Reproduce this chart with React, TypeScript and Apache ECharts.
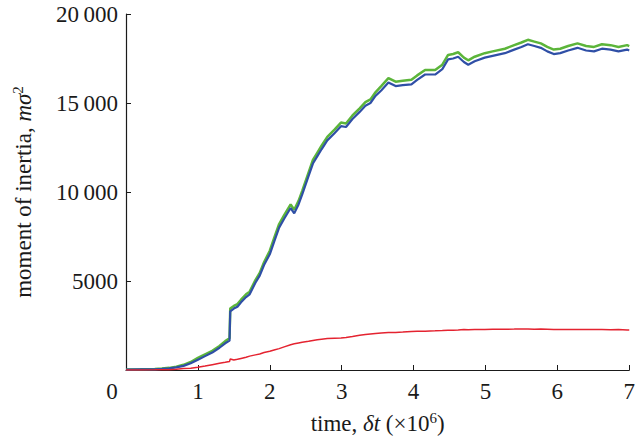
import React, { useEffect, useRef } from "react";
import * as echarts from "echarts";

const time = [0, 0.2, 0.4, 0.5, 0.6, 0.7, 0.8, 0.9, 1.0, 1.1, 1.2, 1.3, 1.38, 1.44, 1.45, 1.5, 1.55, 1.6, 1.67, 1.72, 1.8, 1.86, 1.92, 2.0, 2.06, 2.13, 2.2, 2.29, 2.34, 2.4, 2.45, 2.54, 2.6, 2.66, 2.72, 2.8, 2.9, 2.99, 3.06, 3.15, 3.25, 3.33, 3.4, 3.47, 3.55, 3.65, 3.75, 3.85, 3.97, 4.05, 4.16, 4.3, 4.4, 4.48, 4.55, 4.62, 4.7, 4.76, 4.85, 4.99, 5.1, 5.27, 5.4, 5.5, 5.59, 5.68, 5.77, 5.86, 5.95, 6.04, 6.15, 6.28, 6.4, 6.51, 6.62, 6.74, 6.85, 6.97, 7.0];

const blue = [20, 30, 40, 60, 90, 150, 230, 380, 580, 780, 980, 1250, 1500, 1650, 3300, 3450, 3550, 3800, 4100, 4250, 4900, 5300, 5900, 6500, 7200, 8000, 8500, 9100, 8800, 9300, 9850, 10900, 11600, 12000, 12400, 12900, 13300, 13700, 13650, 14100, 14500, 14850, 15000, 15400, 15700, 16150, 15950, 16000, 16050, 16300, 16600, 16600, 16900, 17450, 17500, 17600, 17300, 17150, 17350, 17550, 17650, 17800, 18000, 18150, 18300, 18200, 18100, 17900, 17750, 17800, 17950, 18100, 17950, 17900, 18050, 18000, 17900, 18000, 17950];

const green = [30, 40, 60, 80, 120, 190, 290, 450, 680, 880, 1080, 1350, 1620, 1780, 3450, 3600, 3700, 3950, 4250, 4400, 5050, 5450, 6050, 6700, 7400, 8200, 8700, 9300, 9000, 9500, 10050, 11100, 11800, 12200, 12600, 13100, 13500, 13900, 13850, 14300, 14700, 15050, 15200, 15600, 15950, 16400, 16200, 16250, 16300, 16550, 16850, 16850, 17150, 17700, 17750, 17850, 17550, 17400, 17600, 17800, 17900, 18050, 18250, 18400, 18550, 18450, 18350, 18150, 18000, 18050, 18200, 18350, 18200, 18150, 18300, 18250, 18150, 18250, 18200];

const red = [0, 5, 10, 15, 20, 40, 80, 100, 150, 220, 300, 380, 430, 480, 620, 560, 600, 650, 720, 780, 850, 900, 980, 1050, 1120, 1200, 1300, 1420, 1470, 1520, 1560, 1610, 1660, 1700, 1730, 1770, 1790, 1800, 1820, 1880, 1950, 1990, 2020, 2050, 2080, 2100, 2110, 2130, 2160, 2170, 2180, 2200, 2220, 2240, 2240, 2250, 2270, 2260, 2270, 2280, 2290, 2290, 2300, 2310, 2300, 2290, 2300, 2290, 2280, 2270, 2280, 2270, 2270, 2280, 2270, 2260, 2270, 2250, 2250];

const xTicks = [0, 1, 2, 3, 4, 5, 6, 7];
const yTicks = [0, 5000, 10000, 15000, 20000];

const FONT = "'Liberation Serif', 'Times New Roman', Times, serif";
const INK = "#1a1a1a";

function pairs(vals: number[]) {
  return time.map((t, i) => [t, vals[i]]);
}

const richName = {
  n: { fontFamily: FONT, fontSize: 23, color: INK, lineHeight: 26 },
  i: { fontFamily: FONT, fontSize: 23, fontStyle: "italic", color: INK, lineHeight: 26 },
  s: { fontFamily: FONT, fontSize: 15, color: INK, verticalAlign: "top", lineHeight: 26, padding: [0, 0, 10, 0] },
};

export default function App() {
  const ref = useRef<HTMLDivElement>(null);
  useEffect(() => {
    if (!ref.current) return;
    const chart = echarts.init(ref.current, null, { renderer: "svg" });
    chart.setOption({
      animation: false,
      backgroundColor: "#fff",
      textStyle: { fontFamily: FONT },
      grid: { left: 126, right: 6, top: 14, bottom: 66, containLabel: false },
      xAxis: {
        type: "value",
        min: xTicks[0],
        max: xTicks[xTicks.length - 1],
        interval: 1,
        axisLine: { lineStyle: { color: INK, width: 1.2 } },
        axisTick: { inside: true, length: 5, lineStyle: { color: INK } },
        splitLine: { show: false },
        axisLabel: {
          margin: 10,
          color: INK,
          fontFamily: FONT,
          fontSize: 23,
          formatter: (v: number) => (v === 0 ? "{z|0}" : String(v)),
          rich: { z: { fontFamily: FONT, fontSize: 23, color: INK, padding: [0, 28, 0, 0] } },
        },
        name: "{n|time, }{i|δt}{n| (×10}{s|6}{n|)}",
        nameLocation: "middle",
        nameGap: 40,
        nameTextStyle: { fontFamily: FONT, rich: richName },
      },
      yAxis: {
        type: "value",
        min: yTicks[0],
        max: yTicks[yTicks.length - 1],
        interval: 5000,
        axisLine: { show: true, lineStyle: { color: INK, width: 1.2 } },
        axisTick: { show: true, inside: true, length: 5, lineStyle: { color: INK } },
        splitLine: { show: false },
        axisLabel: {
          margin: 8,
          color: INK,
          fontFamily: FONT,
          fontSize: 23,
          formatter: (v: number) => {
            if (v === 0) return "";
            if (v >= 10000) {
              const s = String(v);
              return s.slice(0, s.length - 3) + "\u2009" + s.slice(s.length - 3);
            }
            return String(v);
          },
        },
        name: "{n|moment of inertia, }{i|mσ}{s|2}",
        nameLocation: "middle",
        nameRotate: 90,
        nameGap: 90,
        nameTextStyle: { fontFamily: FONT, rich: richName },
      },
      series: [
        {
          type: "line",
          data: pairs(green),
          showSymbol: false,
          lineStyle: { color: "#5cb53a", width: 2.5 },
          z: 2,
        },
        {
          type: "line",
          data: pairs(blue),
          showSymbol: false,
          lineStyle: { color: "#2f4fa6", width: 2.2 },
          z: 3,
        },
        {
          type: "line",
          data: pairs(red),
          showSymbol: false,
          lineStyle: { color: "#e42330", width: 1.5 },
          z: 4,
        },
      ],
    });
    return () => chart.dispose();
  }, []);
  return (
    <div
      ref={ref}
      style={{ position: "fixed", left: 0, top: 0, width: 638, height: 440, background: "#fff" }}
    />
  );
}
